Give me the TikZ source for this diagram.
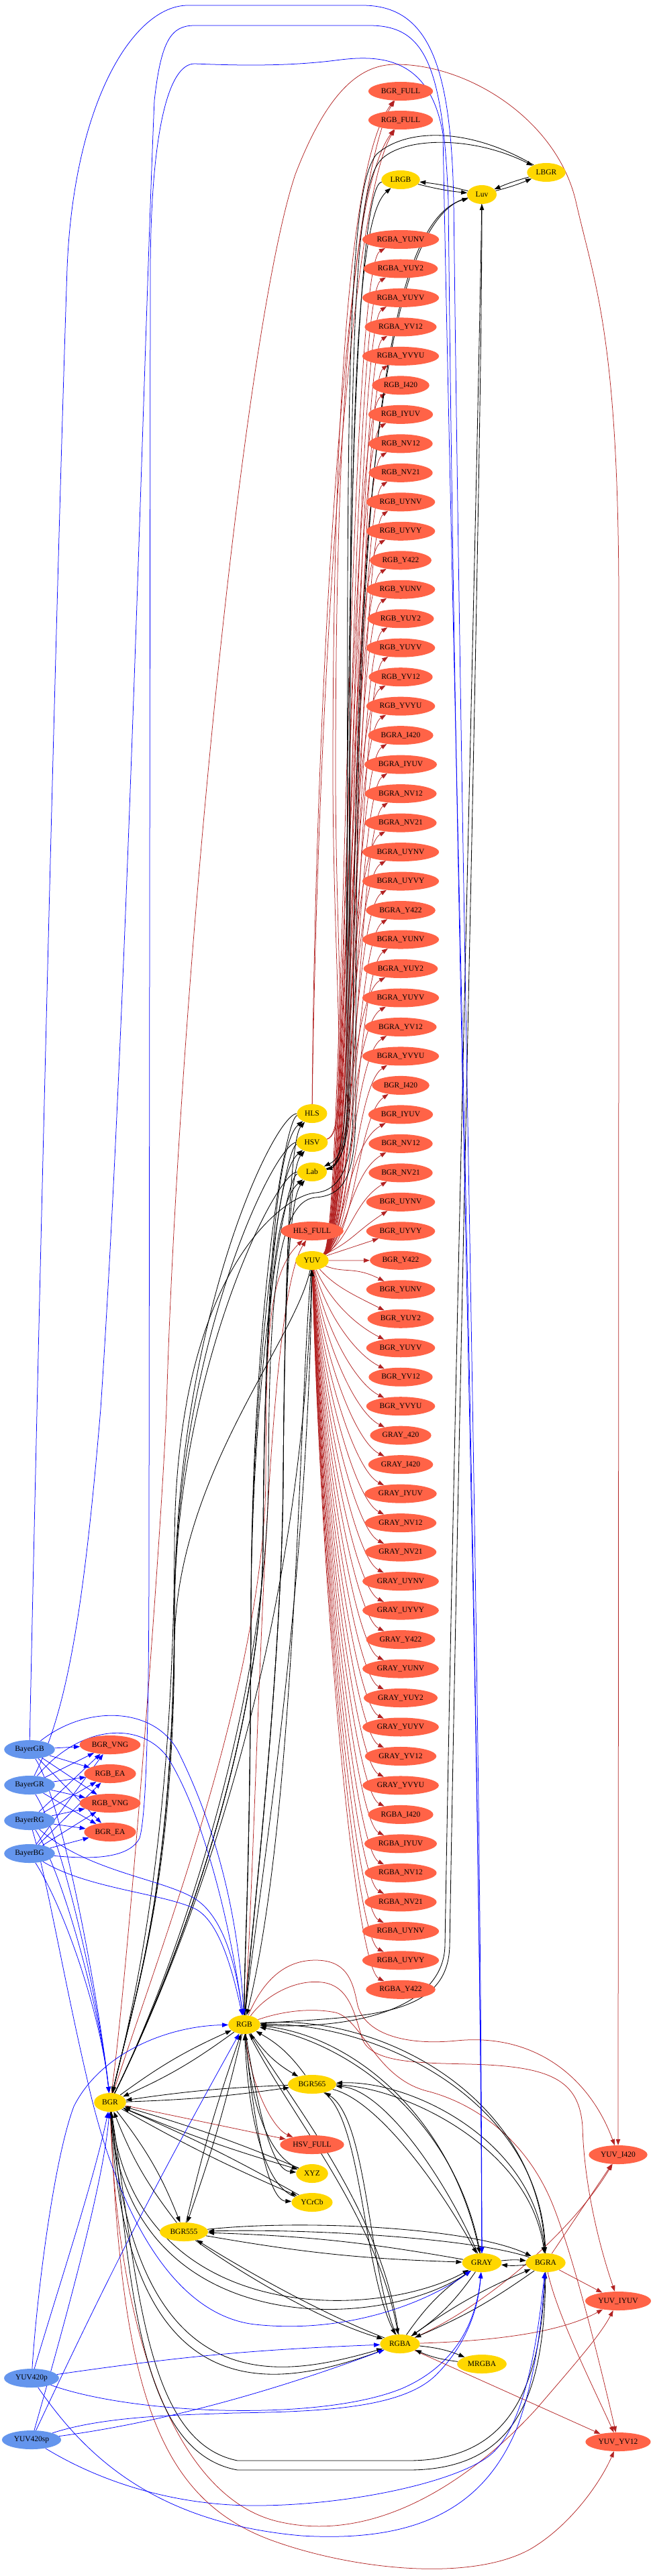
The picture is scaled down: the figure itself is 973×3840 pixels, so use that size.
\documentclass[tikz,border=0pt]{standalone}
\usepackage{fontspec}
\setmainfont{Liberation Serif}
\usetikzlibrary{shapes.geometric,arrows.meta}
\definecolor{goldc}{HTML}{FFD700}
\definecolor{tomatoc}{HTML}{FF6347}
\definecolor{cfblue}{HTML}{6495ED}
\definecolor{fireb}{HTML}{B22222}
\pgfdeclarelayer{edgelayer}
\pgfsetlayers{edgelayer,main}
\begin{document}
\begin{tikzpicture}[x=1pt,y=1pt,
  nd/.style={ellipse, inner xsep=5pt, inner ysep=4pt, minimum height=28pt, minimum width=44pt, font=\fontsize{11.5}{13}\selectfont, text=black},
  yel/.style={nd, fill=goldc},
  tom/.style={nd, fill=tomatoc},
  blu/.style={nd, fill=cfblue},
  tipa/.style={-{Triangle[length=9pt,width=6.5pt]}},
  ebk/.style={draw=black, line width=0.85pt, tipa},
  erd/.style={draw=fireb, line width=0.75pt, tipa},
  ebl/.style={draw=blue, line width=0.75pt, tipa}]
\useasboundingbox (0,0) rectangle (973,-3840);

% ---------------- nodes ----------------
\node[tom] (bgrfull) at (597,-136) {BGR\_FULL};
\node[tom] (rgbfull) at (597,-179) {RGB\_FULL};
\node[yel] (lrgb) at (597,-268) {LRGB};
\node[yel] (luv) at (718,-290) {Luv};
\node[yel] (lbgr) at (814,-257) {LBGR};
\foreach \lab [count=\i from 0] in {RGBA\_YUNV, RGBA\_YUY2, RGBA\_YUYV, RGBA\_YV12, RGBA\_YVYU,
  RGB\_I420, RGB\_IYUV, RGB\_NV12, RGB\_NV21, RGB\_UYNV, RGB\_UYVY, RGB\_Y422, RGB\_YUNV, RGB\_YUY2, RGB\_YUYV, RGB\_YV12, RGB\_YVYU,
  BGRA\_I420, BGRA\_IYUV, BGRA\_NV12, BGRA\_NV21, BGRA\_UYNV, BGRA\_UYVY, BGRA\_Y422, BGRA\_YUNV, BGRA\_YUY2, BGRA\_YUYV, BGRA\_YV12, BGRA\_YVYU,
  BGR\_I420, BGR\_IYUV, BGR\_NV12, BGR\_NV21, BGR\_UYNV, BGR\_UYVY, BGR\_Y422, BGR\_YUNV, BGR\_YUY2, BGR\_YUYV, BGR\_YV12, BGR\_YVYU,
  GRAY\_420, GRAY\_I420, GRAY\_IYUV, GRAY\_NV12, GRAY\_NV21, GRAY\_UYNV, GRAY\_UYVY, GRAY\_Y422, GRAY\_YUNV, GRAY\_YUY2, GRAY\_YUYV, GRAY\_YV12, GRAY\_YVYU,
  RGBA\_I420, RGBA\_IYUV, RGBA\_NV12, RGBA\_NV21, RGBA\_UYNV, RGBA\_UYVY, RGBA\_Y422}
  {\node[tom] (c\i) at (597,{-357-43.48*\i}) {\lab};}
\node[yel] (hls) at (465,-1660) {HLS};
\node[yel] (hsv) at (465,-1703) {HSV};
\node[yel] (lab) at (465,-1747) {Lab};
\node[tom] (hlsfull) at (465,-1835) {HLS\_FULL};
\node[yel] (yuv) at (465,-1879) {YUV};
\node[blu] (bayGB) at (44,-2608) {BayerGB};
\node[blu] (bayGR) at (44,-2661) {BayerGR};
\node[blu] (bayRG) at (44,-2714) {BayerRG};
\node[blu] (bayBG) at (44,-2763) {BayerBG};
\node[tom] (bgrvng) at (164,-2601) {BGR\_VNG};
\node[tom] (rgbea) at (164,-2644) {RGB\_EA};
\node[tom] (rgbvng) at (164,-2688) {RGB\_VNG};
\node[tom] (bgrea) at (164,-2731) {BGR\_EA};
\node[yel] (rgb) at (364,-3018) {RGB};
\node[yel] (bgr) at (164,-3134) {BGR};
\node[yel] (bgr565) at (465,-3107) {BGR565};
\node[tom] (hsvfull) at (465,-3197) {HSV\_FULL};
\node[yel] (xyz) at (465,-3240) {XYZ};
\node[yel] (ycrcb) at (465,-3283) {YCrCb};
\node[yel] (bgr555) at (274,-3327) {BGR555};
\node[yel] (gray) at (718,-3373) {GRAY};
\node[yel] (bgra) at (813,-3373) {BGRA};
\node[yel] (rgba) at (596,-3494) {RGBA};
\node[yel] (mrgba) at (718,-3524) {MRGBA};
\node[tom] (yuvi420) at (921,-3212) {YUV\_I420};
\node[tom] (yuviyuv) at (921,-3430) {YUV\_IYUV};
\node[tom] (yuvyv12) at (921,-3640) {YUV\_YV12};
\node[blu] (yuv420p) at (47,-3545) {YUV420p};
\node[blu] (yuv420sp) at (47,-3637) {YUV420sp};

\begin{pgfonlayer}{edgelayer}
% ---------------- YUV -> column (red) ----------------
\foreach \i in {0,...,33}{
  \pgfmathsetmacro{\ty}{-357-43.48*\i}
  \pgfmathsetmacro{\bx}{513+mod(\i,5)*4}
  \pgfmathsetmacro{\cy}{\ty-45}
  \draw[erd] (yuv) .. controls (\bx,-1850) and (\bx+4,\cy) .. (c\i);
}
\draw[erd] (yuv) -- (c34);
\draw[erd] (yuv) -- (c35);
\foreach \i in {36,...,60}{
  \pgfmathsetmacro{\ty}{-357-43.48*\i}
  \pgfmathsetmacro{\cx}{478+35*exp(-(\i-36)/2)}
  \pgfmathsetmacro{\cy}{-1879+0.45*(\ty+1879)}
  \pgfmathsetmacro{\dy}{\ty+35}
  \draw[erd] (yuv) .. controls (\cx,\cy) and (528,\dy) .. (c\i);
}

% ---------------- HLS/HSV -> *_FULL ----------------
\draw[erd] (hls) .. controls (470,-1000) and (518,-260) .. (bgrfull);
\draw[erd] (hls) .. controls (474,-1000) and (522,-300) .. (rgbfull);
\draw[erd] (hsv) .. controls (522,-1690) and (496,-1450) .. (496,-1150) .. controls (496,-700) and (514,-250) .. (bgrfull);
\draw[erd] (hsv) .. controls (525,-1690) and (500,-1450) .. (500,-1150) .. controls (500,-700) and (518,-290) .. (rgbfull);

% ---------------- HLS_FULL / HSV_FULL ----------------
\draw[erd] (rgb) .. controls (385,-2700) and (392,-1950) .. (hlsfull);
\draw[erd] (bgr) .. controls (240,-2900) and (395,-2500) .. (396,-2200) .. controls (397,-2000) and (398,-1900) .. (hlsfull);
\draw[erd] (bgr) -- (hsvfull);
\draw[erd] (rgb) .. controls (375,-3120) and (410,-3175) .. (hsvfull);

% ---------------- to YUV_I420 / IYUV / YV12 ----------------
\draw[erd] (bgr) .. controls (190,-2950) and (240,-2300) .. (248,-2100) .. controls (265,-1500) and (360,-500) .. (440,-260) .. controls (490,-130) and (540,-96) .. (590,-96) .. controls (700,-96) and (830,-180) .. (858,-300) .. controls (885,-420) and (922,-500) .. (922,-900) .. controls (922,-2000) and (921,-3000) .. (yuvi420);
\draw[erd] (rgb) .. controls (395,-2945) and (430,-2922) .. (470,-2922) .. controls (515,-2922) and (525,-2950) .. (532,-2985) .. controls (540,-3030) and (600,-3050) .. (680,-3042) .. controls (800,-3030) and (880,-3100) .. (yuvi420);
\draw[erd] (rgb) .. controls (395,-2975) and (440,-2950) .. (480,-2955) .. controls (520,-2960) and (528,-3000) .. (540,-3040) .. controls (555,-3075) and (620,-3075) .. (700,-3077) .. controls (820,-3080) and (863,-3100) .. (868,-3170) .. controls (870,-3250) and (890,-3340) .. (yuviyuv);
\draw[erd] (rgb) .. controls (400,-3005) and (450,-2990) .. (500,-3000) .. controls (540,-3010) and (560,-3100) .. (640,-3118) .. controls (720,-3140) and (790,-3200) .. (825,-3290) .. controls (860,-3380) and (900,-3550) .. (yuvyv12);
\draw[erd] (bgra) -- (yuvi420);
\draw[erd] (bgra) -- (yuviyuv);
\draw[erd] (bgra) .. controls (830,-3450) and (880,-3550) .. (yuvyv12);
\draw[erd] (rgba) .. controls (720,-3440) and (850,-3330) .. (yuvi420);
\draw[erd] (rgba) .. controls (720,-3490) and (830,-3480) .. (yuviyuv);
\draw[erd] (rgba) -- (yuvyv12);
\draw[erd] (bgr) .. controls (175,-3500) and (270,-3730) .. (420,-3760) .. controls (560,-3790) and (700,-3700) .. (800,-3590) .. controls (860,-3520) and (895,-3480) .. (yuviyuv);
\draw[erd] (bgr) .. controls (180,-3550) and (230,-3720) .. (400,-3785) .. controls (520,-3830) and (700,-3850) .. (790,-3800) .. controls (850,-3765) and (895,-3700) .. (yuvyv12);

% ---------------- black: lower cluster ----------------
\draw[ebk] (bgr) to[bend left=6] (rgb);
\draw[ebk] (rgb) to[bend left=6] (bgr);
\draw[ebk] (bgr) to[bend right=3] (bgr565);
\draw[ebk] (bgr565) to[bend right=3] (bgr);
\draw[ebk] (rgb) to[bend right=12] (bgr565);
\draw[ebk] (bgr565) to[bend right=12] (rgb);
\draw[ebk] (bgr) to[bend right=3] (xyz);
\draw[ebk] (xyz) to[bend right=3] (bgr);
\draw[ebk] (bgr) to[bend right=3] (ycrcb);
\draw[ebk] (ycrcb) to[bend right=3] (bgr);
\draw[ebk] (rgb) .. controls (385,-3150) and (405,-3235) .. (xyz);
\draw[ebk] (xyz) .. controls (400,-3215) and (375,-3140) .. (rgb);
\draw[ebk] (rgb) .. controls (378,-3170) and (400,-3280) .. (ycrcb);
\draw[ebk] (ycrcb) .. controls (395,-3260) and (370,-3160) .. (rgb);
\draw[ebk] (bgr) to[bend left=8] (bgr555);
\draw[ebk] (bgr555) to[bend left=8] (bgr);
\draw[ebk] (rgb) to[bend left=3] (bgr555);
\draw[ebk] (bgr555) to[bend left=3] (rgb);
\draw[ebk] (bgr555) to[bend right=4] (gray);
\draw[ebk] (gray) to[bend right=4] (bgr555);
\draw[ebk] (bgr555) .. controls (450,-3308) and (700,-3320) .. (bgra);
\draw[ebk] (bgra) .. controls (700,-3335) and (450,-3322) .. (bgr555);
\draw[ebk] (bgr555) .. controls (360,-3390) and (480,-3460) .. (rgba);
\draw[ebk] (rgba) .. controls (470,-3445) and (350,-3375) .. (bgr555);
\draw[ebk] (bgr565) .. controls (560,-3130) and (650,-3250) .. (gray);
\draw[ebk] (gray) .. controls (660,-3240) and (570,-3115) .. (bgr565);
\draw[ebk] (bgr565) .. controls (600,-3110) and (790,-3200) .. (bgra);
\draw[ebk] (bgra) .. controls (800,-3190) and (610,-3100) .. (bgr565);
\draw[ebk] (bgr565) .. controls (540,-3160) and (540,-3380) .. (rgba);
\draw[ebk] (rgba) .. controls (548,-3380) and (548,-3160) .. (bgr565);
\draw[ebk] (bgr) .. controls (200,-3470) and (560,-3460) .. (gray);
\draw[ebk] (gray) .. controls (570,-3480) and (190,-3490) .. (bgr);
\draw[ebk] (bgr) .. controls (200,-3600) and (430,-3540) .. (rgba);
\draw[ebk] (rgba) .. controls (430,-3555) and (190,-3620) .. (bgr);
\draw[ebk] (bgr) .. controls (205,-3400) and (215,-3640) .. (354,-3668) -- (608,-3668) .. controls (760,-3668) and (805,-3560) .. (bgra);
\draw[ebk] (bgra) .. controls (812,-3570) and (770,-3682) .. (608,-3682) -- (354,-3682) .. controls (205,-3655) and (195,-3400) .. (bgr);
\draw[ebk] (rgb) .. controls (520,-3030) and (670,-3150) .. (gray);
\draw[ebk] (gray) .. controls (680,-3160) and (520,-3045) .. (rgb);
\draw[ebk] (rgb) .. controls (560,-3000) and (800,-3120) .. (bgra);
\draw[ebk] (bgra) .. controls (810,-3130) and (560,-3015) .. (rgb);
\draw[ebk] (rgb) .. controls (430,-3150) and (560,-3300) .. (rgba);
\draw[ebk] (rgba) .. controls (570,-3300) and (440,-3140) .. (rgb);
\draw[ebk] (gray) to[bend left=6] (bgra);
\draw[ebk] (bgra) to[bend left=6] (gray);
\draw[ebk] (gray) to[bend left=10] (rgba);
\draw[ebk] (rgba) to[bend left=10] (gray);
\draw[ebk] (bgra) to[bend left=6] (rgba);
\draw[ebk] (rgba) to[bend left=6] (bgra);
\draw[ebk] (rgba) to[bend left=8] (mrgba);
\draw[ebk] (mrgba) to[bend left=8] (rgba);

% ---------------- black: BGR/RGB <-> HLS, HSV, Lab, YUV ----------------
\foreach \X/\yy in {hls/1660,hsv/1703,lab/1747}{
  \draw[ebk] (bgr) .. controls (255,-2950) and (390,-2600) .. (392,-2300) .. controls (394,-1950) and (410,{-(\yy+45)}) .. (\X);
  \draw[ebk] (rgb) .. controls (372,-2900) and (420,-2500) .. (422,-2200) .. controls (424,-1950) and (430,{-(\yy+40)}) .. (\X);
  \draw[ebk] (\X) .. controls (410,-\yy) and (262,{-(\yy+300)}) .. (260,-2400) .. controls (258,-2800) and (208,-2950) .. (bgr);
  \draw[ebk] (\X) .. controls (425,{-(\yy+5)}) and (375,{-(\yy+300)}) .. (374,-2400) .. controls (373,-2800) and (364,-2900) .. (rgb);
}
\draw[ebk] (bgr) .. controls (255,-2950) and (448,-2500) .. (yuv);
\draw[ebk] (rgb) .. controls (380,-2850) and (458,-2400) .. (yuv);
\draw[ebk] (yuv) .. controls (440,-2000) and (262,-2200) .. (260,-2450) .. controls (258,-2800) and (208,-2950) .. (bgr);
\draw[ebk] (yuv) .. controls (445,-2100) and (442,-2700) .. (rgb);

% ---------------- black: Luv, Lab, LRGB, LBGR ----------------
\draw[ebk] (rgb) .. controls (540,-3005) and (668,-3010) .. (670,-2900) .. controls (685,-2000) and (718,-700) .. (luv);
\draw[ebk] (luv) .. controls (712,-700) and (678,-2000) .. (663,-2900) .. controls (661,-2990) and (540,-3025) .. (rgb);
\draw[ebk] (bgr) .. controls (255,-2950) and (398,-2550) .. (400,-2200) .. controls (401,-1950) and (410,-1790) .. (470,-1785) .. controls (515,-1782) and (530,-1750) .. (530,-1650) .. controls (530,-1000) and (540,-340) .. (luv);
\draw[ebk] (luv) .. controls (543,-330) and (526,-1000) .. (526,-1650) .. controls (526,-1740) and (506,-1775) .. (470,-1778) .. controls (420,-1782) and (262,-1900) .. (260,-2300) .. controls (258,-2700) and (210,-2950) .. (bgr);
\draw[ebk] (lab) .. controls (516,-1735) and (522,-1680) .. (522,-1600) .. controls (522,-700) and (516,-300) .. (566,-240) .. controls (596,-205) and (700,-200) .. (lbgr);
\draw[ebk] (lbgr) .. controls (700,-190) and (606,-190) .. (561,-230) .. controls (511,-290) and (518,-700) .. (518,-1600) .. controls (518,-1690) and (512,-1725) .. (lab);
\draw[ebk] (lab) .. controls (514,-1740) and (520,-1680) .. (520,-1600) .. controls (520,-700) and (524,-330) .. (lrgb);
\draw[ebk] (lrgb) .. controls (536,-275) and (516,-700) .. (516,-1600) .. controls (516,-1700) and (500,-1740) .. (lab);
\draw[ebk] (lrgb) to[bend right=4] (luv);
\draw[ebk] (luv) to[bend right=4] (lrgb);
\draw[ebk] (lbgr) to[bend right=4] (luv);
\draw[ebk] (luv) to[bend right=4] (lbgr);

% ---------------- blue: Bayer ----------------
\foreach \b in {bayGB,bayGR,bayRG,bayBG}{
  \foreach \t in {bgrvng,rgbea,rgbvng,bgrea}{
    \draw[ebl] (\b) -- (\t);
  }
}
\foreach \b/\yy in {bayGB/2608,bayGR/2661,bayRG/2714,bayBG/2763}{
  \draw[ebl] (\b) .. controls (95,{-(\yy+80)}) and (150,-3000) .. (bgr);
}
\draw[ebl] (bayGB) .. controls (130,-2540) and (230,-2545) .. (265,-2610) .. controls (320,-2720) and (355,-2850) .. (rgb);
\draw[ebl] (bayGR) .. controls (120,-2570) and (210,-2565) .. (250,-2620) .. controls (300,-2700) and (340,-2850) .. (rgb);
\draw[ebl] (bayRG) .. controls (130,-2790) and (240,-2800) .. (290,-2830) .. controls (330,-2855) and (350,-2920) .. (rgb);
\draw[ebl] (bayBG) .. controls (130,-2815) and (240,-2822) .. (290,-2845) .. controls (325,-2862) and (345,-2930) .. (rgb);
\draw[ebl] (bayGB) .. controls (50,-2300) and (80,-1000) .. (100,-400) .. controls (110,-150) and (200,-8) .. (280,-8) -- (540,-8) .. controls (640,-8) and (672,-100) .. (676,-300) .. controls (690,-1500) and (717,-2500) .. (gray);
\draw[ebl] (bayGR) .. controls (100,-2550) and (125,-2400) .. (150,-2100) .. controls (190,-1500) and (215,-500) .. (230,-150) .. controls (240,-60) and (255,-38) .. (290,-38) -- (550,-38) .. controls (630,-38) and (660,-90) .. (668,-300) .. controls (680,-1500) and (715,-2500) .. (gray);
\draw[ebl] (bayBG) .. controls (120,-2770) and (190,-2775) .. (208,-2740) .. controls (220,-2700) and (222,-2500) .. (222,-2300) -- (224,-400) .. controls (225,-200) and (250,-95) .. (290,-95) .. controls (340,-97) and (420,-100) .. (500,-90) .. controls (560,-82) and (640,-80) .. (660,-200) .. controls (675,-1000) and (715,-2500) .. (gray);
\draw[ebl] (bayRG) .. controls (70,-2800) and (95,-2950) .. (130,-3100) .. controls (170,-3280) and (250,-3450) .. (380,-3465) .. controls (520,-3480) and (640,-3430) .. (gray);

% ---------------- blue: YUV420p / YUV420sp ----------------
\draw[ebl] (yuv420p) .. controls (55,-3420) and (80,-3220) .. (110,-3140) .. controls (150,-3060) and (250,-3020) .. (rgb);
\draw[ebl] (yuv420p) .. controls (90,-3400) and (140,-3250) .. (bgr);
\draw[ebl] (yuv420sp) .. controls (100,-3450) and (155,-3250) .. (bgr);
\draw[ebl] (yuv420sp) to[bend left=2] (rgb);
\draw[ebl] (yuv420p) to[bend left=3] (rgba);
\draw[ebl] (yuv420sp) .. controls (250,-3610) and (420,-3560) .. (rgba);
\draw[ebl] (yuv420p) .. controls (200,-3600) and (480,-3610) .. (600,-3560) .. controls (680,-3525) and (710,-3460) .. (gray);
\draw[ebl] (yuv420sp) .. controls (160,-3600) and (280,-3600) .. (348,-3597) .. controls (480,-3595) and (600,-3590) .. (650,-3540) .. controls (690,-3500) and (712,-3450) .. (gray);
\draw[ebl] (yuv420p) .. controls (120,-3650) and (220,-3760) .. (450,-3780) .. controls (620,-3790) and (720,-3740) .. (770,-3620) .. controls (800,-3540) and (808,-3450) .. (bgra);
\draw[ebl] (yuv420sp) .. controls (150,-3700) and (260,-3735) .. (380,-3735) .. controls (520,-3735) and (680,-3700) .. (730,-3660) .. controls (780,-3620) and (800,-3500) .. (bgra);
\end{pgfonlayer}
\end{tikzpicture}
\end{document}
